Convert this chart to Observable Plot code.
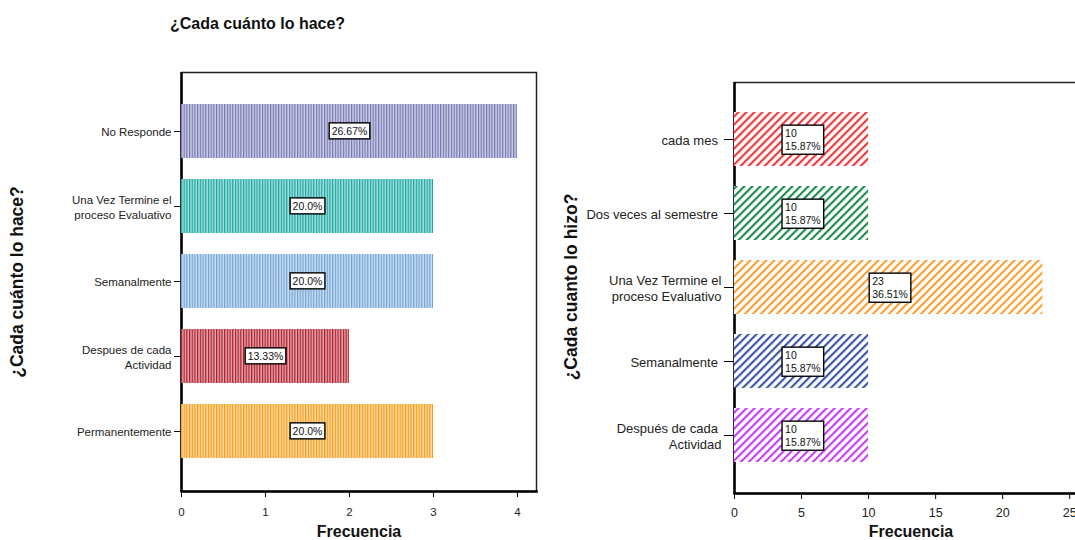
<!DOCTYPE html>
<html><head><meta charset="utf-8">
<script src="https://cdn.jsdelivr.net/npm/d3@7"></script>
<script src="https://cdn.jsdelivr.net/npm/@observablehq/plot@0.6"></script>
<style>
html,body{margin:0;padding:0;background:#fff;}
body{width:1075px;height:540px;overflow:hidden;position:relative;font-family:"Liberation Sans",Arial,sans-serif;}
.abs{position:absolute;white-space:nowrap;color:#111;}
.title{font-weight:bold;font-size:16px;line-height:16px;}
.ylab{font-size:17.5px;line-height:17.5px;}
.rot{transform:translate(-50%,-50%) rotate(-90deg);}
.center{transform:translateX(-50%);}
#left,#right{position:absolute;top:0;}
#left{left:0;width:545px;}
#right{left:545px;width:551px;}
#left svg,#right svg{max-width:none !important;}
</style></head><body>
<svg width="0" height="0" style="position:absolute"><defs id="defs"></defs></svg>
<div id="left"></div><div id="right"></div>
<div class="abs title" style="left:170px;top:16px">¿Cada cuánto lo hace?</div>
<div class="abs title ylab rot" style="left:18px;top:282px">¿Cada cuánto lo hace?</div>
<div class="abs title ylab rot" style="left:572px;top:287px">¿Cada cuanto lo hizo?</div>
<div class="abs title center" style="left:359px;top:524px">Frecuencia</div>
<div class="abs title center" style="left:911px;top:524px">Frecuencia</div>
<script>
// ---- Left chart data ----
const leftCategories = ["No Responde", "Una Vez Termine el proceso Evaluativo", "Semanalmente", "Despues de cada Actividad", "Permanentemente"];
const leftTickLabels = ["No Responde", "Una Vez Termine el\nproceso Evaluativo", "Semanalmente", "Despues de cada\nActividad", "Permanentemente"];
const leftValues = [4, 3, 3, 2, 3];
const leftPercents = ["26.67%", "20.0%", "20.0%", "13.33%", "20.0%"];
const leftLineColors = ["#7376b2", "#12a8a4", "#6fa3d6", "#ab1a28", "#f59c14"];
const leftBgColors = ["#cdcee5", "#a9dddb", "#cadef0", "#e4a6ab", "#fcdaa6"];
const leftTicks = [0, 1, 2, 3, 4];

// ---- Right chart data ----
const rightCategories = ["cada mes", "Dos veces al semestre", "Una Vez Termine el proceso Evaluativo", "Semanalmente", "Después de cada Actividad"];
const rightTickLabels = ["cada mes\u00a0", "Dos veces al semestre\u00a0", "Una Vez Termine el\nproceso Evaluativo", "Semanalmente\u00a0", "Después de cada\u00a0\nActividad"];
const rightValues = [10, 10, 23, 10, 10];
const rightPercents = ["15.87%", "15.87%", "36.51%", "15.87%", "15.87%"];
const rightColors = ["#f2383a", "#1e8c4c", "#f7a035", "#3a56a6", "#c53ff2"];
const rightTicks = [0, 5, 10, 15, 20, 25];

// ---- patterns ----
const defs = d3.select("#defs");
leftLineColors.forEach((c, i) => {
  const p = defs.append("pattern").attr("id", "vp" + i).attr("patternUnits", "userSpaceOnUse")
    .attr("width", 2.7).attr("height", 10);
  p.append("rect").attr("width", 2.7).attr("height", 10).attr("fill", leftBgColors[i]);
  p.append("rect").attr("width", 1.2).attr("height", 10).attr("fill", c);
});
rightColors.forEach((c, i) => {
  const p = defs.append("pattern").attr("id", "dp" + i).attr("patternUnits", "userSpaceOnUse")
    .attr("width", 5.66).attr("height", 10).attr("patternTransform", "rotate(45)");
  p.append("rect").attr("width", 5.66).attr("height", 10).attr("fill", "#fff");
  p.append("rect").attr("width", 2.1).attr("height", 10).attr("fill", c);
});

const font = '"Liberation Sans", Arial, sans-serif';

const leftData = leftCategories.map((c, i) => ({cat: c, value: leftValues[i], label: leftPercents[i], fill: `url(#vp${i})`}));
const rightData = rightCategories.map((c, i) => ({cat: c, value: rightValues[i], label: rightValues[i] + "\n" + rightPercents[i], fill: `url(#dp${i})`}));

const leftPlot = Plot.plot({
  width: 545, height: 540,
  marginLeft: 181, marginRight: 9, marginTop: 72, marginBottom: 49,
  style: {fontFamily: font, color: "#222", background: "transparent", overflow: "visible", maxWidth: "none"},
  x: {domain: [0, 4.226], label: null},
  y: {domain: leftCategories, paddingInner: 0.274, paddingOuter: 0.4025, label: null},
  color: {type: "identity"},
  marks: [
    Plot.frame({stroke: "#222", strokeWidth: 1.5}),
    Plot.ruleX([0], {stroke: "#000", strokeWidth: 2.5}),
    Plot.frame({anchor: "bottom", stroke: "#000", strokeWidth: 2.5}),
    Plot.barX(leftData, {x: "value", y: "cat", fill: "fill"}),
    Plot.axisY({tickSize: 7, tickPadding: 3, fontSize: 11.5, lineHeight: 1.3, stroke: "#000",
      tickFormat: d => leftTickLabels[leftCategories.indexOf(d)], label: null}),
    Plot.axisX({ticks: leftTicks, tickFormat: d3.format("d"), tickSize: 6, tickPadding: 10, fontSize: 11.5, stroke: "#000", label: null}),
    Plot.text(leftData, {x: d => d.value / 2, y: "cat", text: "label", fontSize: 10.5, fill: "#111"})
  ]
});

const rightPlot = Plot.plot({
  width: 551, height: 540,
  marginLeft: 189, marginRight: 8, marginTop: 82, marginBottom: 47,
  style: {fontFamily: font, color: "#222", background: "transparent", overflow: "visible", maxWidth: "none"},
  x: {domain: [0, 26.4], label: null},
  y: {domain: rightCategories, paddingInner: 0.27, paddingOuter: 0.412, label: null},
  color: {type: "identity"},
  marks: [
    Plot.frame({stroke: "#222", strokeWidth: 1.5}),
    Plot.ruleX([0], {stroke: "#000", strokeWidth: 2.5}),
    Plot.frame({anchor: "bottom", stroke: "#000", strokeWidth: 2.5}),
    Plot.barX(rightData, {x: "value", y: "cat", fill: "fill"}),
    Plot.axisY({tickSize: 10, tickPadding: 3, fontSize: 13, lineHeight: 1.25, stroke: "#000",
      tickFormat: d => rightTickLabels[rightCategories.indexOf(d)], label: null}),
    Plot.axisX({ticks: rightTicks, tickFormat: d3.format("d"), tickSize: 6, tickPadding: 9, fontSize: 12.5, stroke: "#000", label: null}),
    Plot.text(rightData, {x: d => d.value / 2, y: "cat", text: "label", textAnchor: "start", dx: -16.5,
      lineHeight: 1.25, fontSize: 10.5, fill: "#111"})
  ]
});

document.getElementById("left").appendChild(leftPlot);
document.getElementById("right").appendChild(rightPlot);

function boxLabels(svg, padX, padY) {
  svg.querySelectorAll('g[aria-label="text"] > text').forEach(t => {
    const b = t.getBBox();
    const r = document.createElementNS("http://www.w3.org/2000/svg", "rect");
    r.setAttribute("x", b.x - padX);
    r.setAttribute("y", b.y - padY);
    r.setAttribute("width", b.width + 2 * padX);
    r.setAttribute("height", b.height + 2 * padY);
    const tr = t.getAttribute("transform");
    if (tr) r.setAttribute("transform", tr);
    r.setAttribute("fill", "#fff");
    r.setAttribute("stroke", "#000");
    r.setAttribute("stroke-width", "1.4");
    t.parentNode.insertBefore(r, t);
  });
}
boxLabels(leftPlot, 2.5, 2);
boxLabels(rightPlot, 3, 2);
</script>
</body></html>
